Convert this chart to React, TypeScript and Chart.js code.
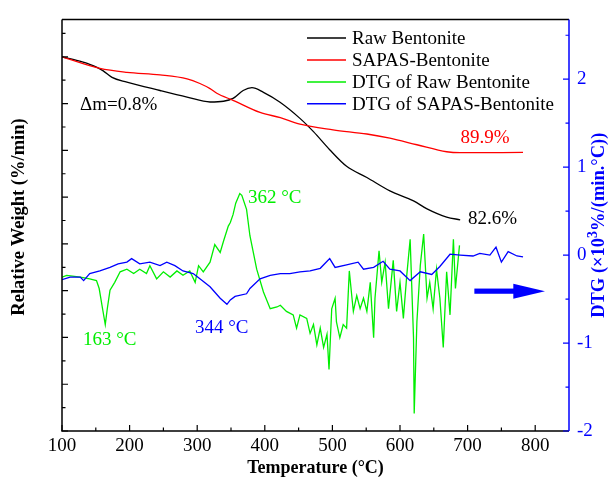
import React, { useEffect, useRef } from 'react';
import { Chart, registerables } from 'chart.js';

Chart.register(...registerables);

const FONT = '"Liberation Serif", "Times New Roman", serif';
const BLACK = '#000000';
const RED = '#ff0000';
const GREEN = '#00ee00';
const BLUE = '#0000ff';

// ---- TG curves (left axis, relative weight %) ----
const rawTgTemp = [100, 130, 151, 161, 174, 196, 245, 285, 319, 339, 353, 368, 381, 398, 422, 452, 472, 496, 521, 551, 585, 620, 640, 669, 689];
const rawTgWeight = [100.0, 99.45, 98.9, 98.5, 97.8, 97.3, 96.4, 95.7, 95.17, 95.25, 95.55, 96.4, 96.7, 96.2, 95.17, 93.42, 92.0, 90.07, 88.3, 87.1, 85.67, 84.6, 83.74, 82.86, 82.58];

const sapasTgTemp = [100, 156, 196, 245, 285, 304, 319, 329, 353, 393, 423, 452, 501, 551, 585, 625, 669, 689, 782];
const sapasTgWeight = [100.0, 98.76, 98.34, 98.07, 97.65, 97.15, 96.6, 96.1, 95.35, 94.05, 93.5, 92.8, 92.2, 91.75, 91.3, 90.6, 89.85, 89.75, 89.78];

// ---- DTG curves (right axis) ----
const rawDtgTemp = [100, 107, 127, 141, 151, 155, 160, 164, 167, 171, 178, 186, 196, 206, 215, 225, 230, 240, 250, 260, 270, 279, 289, 297, 302, 309, 319, 326, 334, 339, 346, 349, 353, 357, 363, 366, 373, 378, 383, 388, 398, 408, 418, 423, 432, 442, 447, 452, 462, 467, 472, 477, 482, 487, 492, 495, 499, 504, 506, 511, 516, 521, 525, 529, 531, 536, 541, 546, 551, 556, 561, 563, 569, 573, 578, 583, 590, 595, 600, 605, 610, 615, 620, 621, 625, 630, 635, 640, 644, 649, 654, 659, 664, 669, 674, 679, 682, 688];
const rawDtgValue = [-0.25, -0.23, -0.25, -0.27, -0.29, -0.38, -0.61, -0.79, -0.61, -0.40, -0.31, -0.19, -0.16, -0.21, -0.16, -0.21, -0.12, -0.27, -0.19, -0.25, -0.18, -0.23, -0.18, -0.31, -0.12, -0.19, -0.08, 0.12, 0.03, 0.16, 0.33, 0.37, 0.46, 0.59, 0.70, 0.68, 0.52, 0.22, 0.03, -0.16, -0.42, -0.61, -0.59, -0.57, -0.64, -0.68, -0.83, -0.68, -0.72, -0.89, -0.79, -1.02, -0.83, -1.05, -0.90, -1.30, -0.61, -0.49, -0.76, -0.94, -0.79, -0.83, -0.18, -0.49, -0.64, -0.46, -0.61, -0.49, -0.64, -0.31, -0.94, -0.49, 0.05, -0.31, -0.08, -0.61, -0.06, -0.64, -0.31, -0.72, -0.23, 0.18, -0.94, -1.80, -0.76, -0.12, 0.24, -0.49, -0.31, -0.61, -0.16, -0.49, -1.05, -0.19, -0.68, 0.18, -0.38, 0.11];

const sapasDtgTemp = [100, 112, 127, 132, 141, 156, 171, 183, 196, 203, 215, 230, 245, 255, 267, 279, 294, 304, 319, 334, 344, 349, 356, 373, 378, 393, 408, 423, 437, 452, 467, 482, 496, 504, 521, 538, 546, 561, 575, 585, 600, 615, 630, 647, 659, 674, 689, 708, 718, 733, 742, 750, 760, 773, 782];
const sapasDtgValue = [-0.28, -0.25, -0.25, -0.29, -0.21, -0.18, -0.14, -0.10, -0.08, -0.04, -0.10, -0.08, -0.12, -0.08, -0.12, -0.18, -0.21, -0.27, -0.36, -0.49, -0.56, -0.51, -0.47, -0.44, -0.38, -0.27, -0.23, -0.21, -0.21, -0.19, -0.18, -0.15, -0.04, -0.14, -0.11, -0.08, -0.16, -0.14, -0.07, -0.16, -0.18, -0.29, -0.19, -0.22, -0.13, 0.01, 0.0, -0.01, 0.02, 0.0, 0.09, -0.08, 0.04, -0.01, -0.02];

// ---- axes ----
const xTickValues = [100, 200, 300, 400, 500, 600, 700, 800];
const dtgTickValues = [-2, -1, 0, 1, 2];
const weightTickValues = [60, 65, 70, 75, 80, 85, 90, 95, 100];

const seriesLabels = ['Raw Bentonite', 'SAPAS-Bentonite', 'DTG of Raw Bentonite', 'DTG of SAPAS-Bentonite'];
const seriesColors = [BLACK, RED, GREEN, BLUE];

// text annotations placed in data units
const annotations = [
  { text: 'Δm=0.8%', x: 126.6, y: 94.83, axis: 'yL', color: BLACK, align: 'left' },
  { text: '89.9%', x: 725.7, y: 91.3, axis: 'yL', color: RED, align: 'center' },
  { text: '82.6%', x: 736.8, y: 82.68, axis: 'yL', color: BLACK, align: 'center' },
  { text: '362 °C', x: 375, y: 0.65, axis: 'yR', color: GREEN, align: 'left' },
  { text: '163 °C', x: 131, y: -0.97, axis: 'yR', color: GREEN, align: 'left' },
  { text: '344 °C', x: 296.7, y: -0.83, axis: 'yR', color: BLUE, align: 'left' },
];
const arrowSpec = { x0: 710, xHead: 767.6, x1: 814.5, y: -0.41 };

const zip = (xs: number[], ys: number[]) => xs.map((x, i) => ({ x, y: ys[i] }));

const framePlugin = {
  id: 'frameTicks',
  afterDatasetsDraw(chart: any) {
    const { ctx, chartArea: a, scales } = chart;
    const sx = scales.x, sl = scales.yL, sr = scales.yR;
    ctx.save();
    ctx.lineWidth = 1.5;
    ctx.lineCap = 'butt';
    // black frame: top, left, bottom
    ctx.strokeStyle = BLACK;
    ctx.beginPath();
    ctx.moveTo(a.left, a.top);
    ctx.lineTo(a.right, a.top);
    ctx.moveTo(a.left, a.top);
    ctx.lineTo(a.left, a.bottom);
    ctx.lineTo(a.right, a.bottom);
    ctx.stroke();

    const MAJ = 6, MIN = 3.5;
    ctx.lineWidth = 1.2;
    // bottom ticks
    ctx.beginPath();
    for (let v = sx.min; v < sx.max - 1e-6; v += 50) {
      const px = sx.getPixelForValue(v);
      const len = xTickValues.includes(v) ? MAJ : MIN;
      ctx.moveTo(px, a.bottom);
      ctx.lineTo(px, a.bottom - len);
    }
    // left ticks
    for (let v = sl.min; v < sl.max - 1e-6; v += 2.5) {
      const py = sl.getPixelForValue(v);
      const len = weightTickValues.includes(v) ? MAJ : MIN;
      ctx.moveTo(a.left, py);
      ctx.lineTo(a.left + len, py);
    }
    ctx.stroke();

    // right axis, blue
    ctx.strokeStyle = BLUE;
    ctx.lineWidth = 1.5;
    ctx.beginPath();
    ctx.moveTo(a.right, a.top);
    ctx.lineTo(a.right, a.bottom);
    ctx.stroke();
    ctx.lineWidth = 1.2;
    ctx.beginPath();
    for (let v = sr.min; v < sr.max - 1e-6; v += 0.5) {
      const py = sr.getPixelForValue(v);
      const len = dtgTickValues.includes(v) ? MAJ : MIN;
      ctx.moveTo(a.right, py);
      ctx.lineTo(a.right - len, py);
    }
    ctx.stroke();
    ctx.restore();
  },
};

const decorPlugin = {
  id: 'decor',
  afterDraw(chart: any) {
    const { ctx, chartArea: a, scales } = chart;
    const sx = scales.x;
    ctx.save();

    // legend
    ctx.font = `19px ${FONT}`;
    ctx.textBaseline = 'middle';
    ctx.textAlign = 'left';
    seriesLabels.forEach((label, i) => {
      const y = a.top + 18.7 + i * 21.9;
      ctx.strokeStyle = seriesColors[i];
      ctx.lineWidth = 1.5;
      ctx.beginPath();
      ctx.moveTo(a.left + 245, y);
      ctx.lineTo(a.left + 284, y);
      ctx.stroke();
      ctx.fillStyle = BLACK;
      ctx.fillText(label, a.left + 290, y + 1);
    });

    // annotations
    annotations.forEach((an) => {
      const px = sx.getPixelForValue(an.x);
      const py = scales[an.axis].getPixelForValue(an.y);
      ctx.fillStyle = an.color;
      ctx.textAlign = an.align as CanvasTextAlign;
      ctx.fillText(an.text, px, py);
    });

    // arrow
    const ay = scales.yR.getPixelForValue(arrowSpec.y);
    const ax0 = sx.getPixelForValue(arrowSpec.x0);
    const axh = sx.getPixelForValue(arrowSpec.xHead);
    const ax1 = sx.getPixelForValue(arrowSpec.x1);
    ctx.fillStyle = BLUE;
    ctx.fillRect(ax0, ay - 2.6, axh - ax0 + 1, 5.2);
    ctx.beginPath();
    ctx.moveTo(axh, ay - 7.5);
    ctx.lineTo(ax1, ay);
    ctx.lineTo(axh, ay + 7.5);
    ctx.closePath();
    ctx.fill();

    // x title
    ctx.fillStyle = BLACK;
    ctx.font = `bold 18px ${FONT}`;
    ctx.textAlign = 'center';
    ctx.fillText('Temperature (°C)', (a.left + a.right) / 2, 468);

    // left title
    ctx.save();
    ctx.translate(19, 217);
    ctx.rotate(-Math.PI / 2);
    ctx.font = `bold 18.5px ${FONT}`;
    ctx.fillText('Relative Weight (%/min)', 0, 0);
    ctx.restore();

    // right title with superscript
    ctx.save();
    ctx.translate(599, (a.top + a.bottom) / 2);
    ctx.rotate(-Math.PI / 2);
    ctx.fillStyle = BLUE;
    ctx.textAlign = 'left';
    const parts = [
      { t: 'DTG (×10', f: `bold 18.5px ${FONT}`, dy: 0 },
      { t: '3', f: `bold 14px ${FONT}`, dy: -6 },
      { t: '%/(min.°C))', f: `bold 18.5px ${FONT}`, dy: 0 },
    ];
    let total = 0;
    parts.forEach((p) => { ctx.font = p.f; total += ctx.measureText(p.t).width; });
    let cx = -total / 2;
    parts.forEach((p) => {
      ctx.font = p.f;
      ctx.fillText(p.t, cx, p.dy);
      cx += ctx.measureText(p.t).width;
    });
    ctx.restore();

    ctx.restore();
  },
};

export default function App() {
  const ref = useRef<HTMLCanvasElement | null>(null);
  useEffect(() => {
    document.body.style.margin = '0';
    if (!ref.current) return;
    const chart = new Chart(ref.current, {
      type: 'line',
      data: {
        datasets: [
          { label: seriesLabels[3], data: zip(sapasDtgTemp, sapasDtgValue), yAxisID: 'yR', borderColor: BLUE, borderWidth: 1.3, pointRadius: 0, tension: 0 },
          { label: seriesLabels[2], data: zip(rawDtgTemp, rawDtgValue), yAxisID: 'yR', borderColor: GREEN, borderWidth: 1.3, pointRadius: 0, tension: 0 },
          { label: seriesLabels[1], data: zip(sapasTgTemp, sapasTgWeight), yAxisID: 'yL', borderColor: RED, borderWidth: 1.3, pointRadius: 0, cubicInterpolationMode: 'monotone' },
          { label: seriesLabels[0], data: zip(rawTgTemp, rawTgWeight), yAxisID: 'yL', borderColor: BLACK, borderWidth: 1.3, pointRadius: 0, cubicInterpolationMode: 'monotone' },
        ],
      },
      options: {
        animation: false,
        responsive: false,
        devicePixelRatio: 1,
        parsing: false as any,
        layout: { padding: { top: 13, left: 0, right: 0, bottom: 0 } },
        plugins: { legend: { display: false }, tooltip: { enabled: false } },
        scales: {
          x: {
            type: 'linear',
            min: 100,
            max: 850,
            grid: { display: false, drawTicks: false },
            border: { display: false },
            ticks: { color: BLACK, font: { family: FONT, size: 19 }, padding: 4 },
            afterBuildTicks: (s: any) => { s.ticks = xTickValues.map((value) => ({ value })); },
            afterFit: (s: any) => { s.height = 46; },
          },
          yL: {
            type: 'linear',
            position: 'left',
            min: 60,
            max: 104,
            grid: { display: false, drawTicks: false },
            border: { display: false },
            ticks: { display: false },
            afterFit: (s: any) => { s.width = 62; },
          },
          yR: {
            type: 'linear',
            position: 'right',
            min: -2,
            max: 2.68,
            grid: { display: false, drawTicks: false },
            border: { display: false },
            ticks: { color: BLUE, font: { family: FONT, size: 19 }, padding: 8 },
            afterBuildTicks: (s: any) => { s.ticks = dtgTickValues.map((value) => ({ value })); },
            afterFit: (s: any) => { s.width = 46; },
          },
        },
      } as any,
      plugins: [framePlugin, decorPlugin],
    });
    return () => chart.destroy();
  }, []);
  return <canvas ref={ref} width={615} height={477} style={{ display: 'block' }} />;
}
